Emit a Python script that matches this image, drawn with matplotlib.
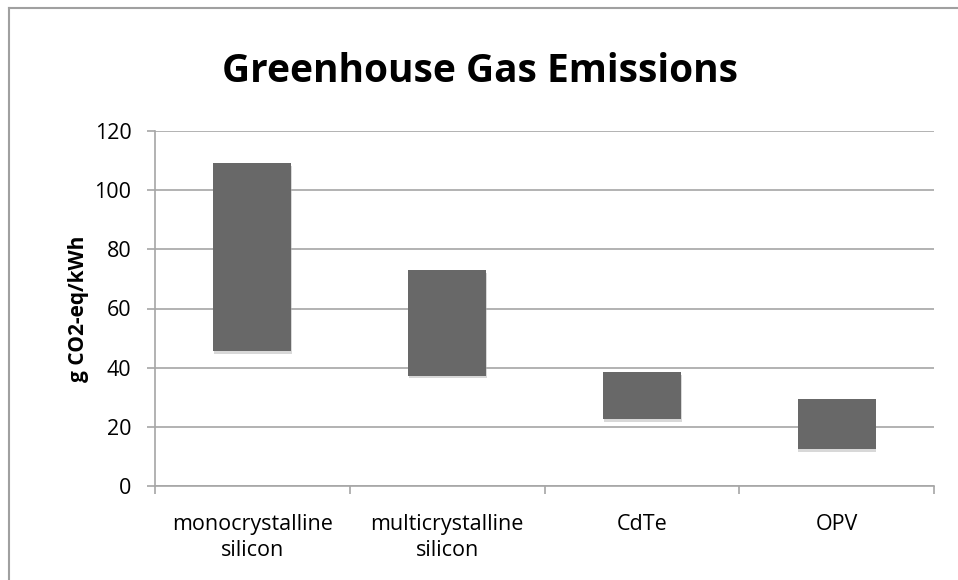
import numpy as np
import matplotlib.pyplot as plt
import matplotlib.patheffects as pe
from matplotlib.lines import Line2D

plt.rcParams['font.family'] = ['Open Sans', 'DejaVu Sans']

categories = ['monocrystalline\nsilicon', 'multicrystalline\nsilicon', 'CdTe', 'OPV']
low = [45.6, 37.3, 22.5, 12.6]
high = [109.2, 73.0, 38.4, 29.3]

W, H = 958, 580
fig = plt.figure(figsize=(W / 100, H / 100), dpi=100)
ax = fig.add_axes([155 / W, 1 - 486 / H, 779 / W, 355 / H])

x = np.arange(len(categories))
heights = np.array(high) - np.array(low)
bars = ax.bar(x, heights, bottom=low, width=0.4, color='#686868', zorder=3)
for b in bars:
    b.set_path_effects([pe.SimplePatchShadow(offset=(0.5, -2), shadow_rgbFace='#aaaaaa', alpha=0.45),
                        pe.Normal()])

ax.set_xlim(-0.5, len(categories) - 0.5)
ax.set_ylim(0, 120)
ax.set_yticks(range(0, 121, 20))
ax.set_xticks(x)
ax.set_xticklabels(categories, fontsize=15.5, linespacing=1.3)
ax.set_xticks(np.arange(-0.5, len(categories), 1), minor=True)
ax.tick_params(axis='x', which='major', length=0, pad=20)
ax.tick_params(axis='x', which='minor', length=6, color='#a6a6a6', width=1.2, direction='out')
ax.tick_params(axis='y', length=6, color='#a6a6a6', width=1.2, labelsize=15.5, pad=11)

ax.grid(axis='y', color='#a6a6a6', linewidth=1.2, zorder=0)
for s in ['top', 'right']:
    ax.spines[s].set_visible(False)
for s in ['left', 'bottom']:
    ax.spines[s].set_color('#a6a6a6')
    ax.spines[s].set_linewidth(1.2)

ax.set_ylabel('g CO2-eq/kWh', fontsize=15, fontweight='bold', labelpad=4)
fig.text(480 / W, 1 - 72 / H, 'Greenhouse Gas Emissions', ha='center', va='center',
         fontsize=28, fontweight='bold')

# outer chart frame
fig.add_artist(Line2D([9 / W, 1], [1 - 8 / H, 1 - 8 / H], color='#a0a0a0', linewidth=1.5))
fig.add_artist(Line2D([9 / W, 9 / W], [0, 1 - 8 / H], color='#a0a0a0', linewidth=1.5))

fig.savefig('out.png', dpi=100)
